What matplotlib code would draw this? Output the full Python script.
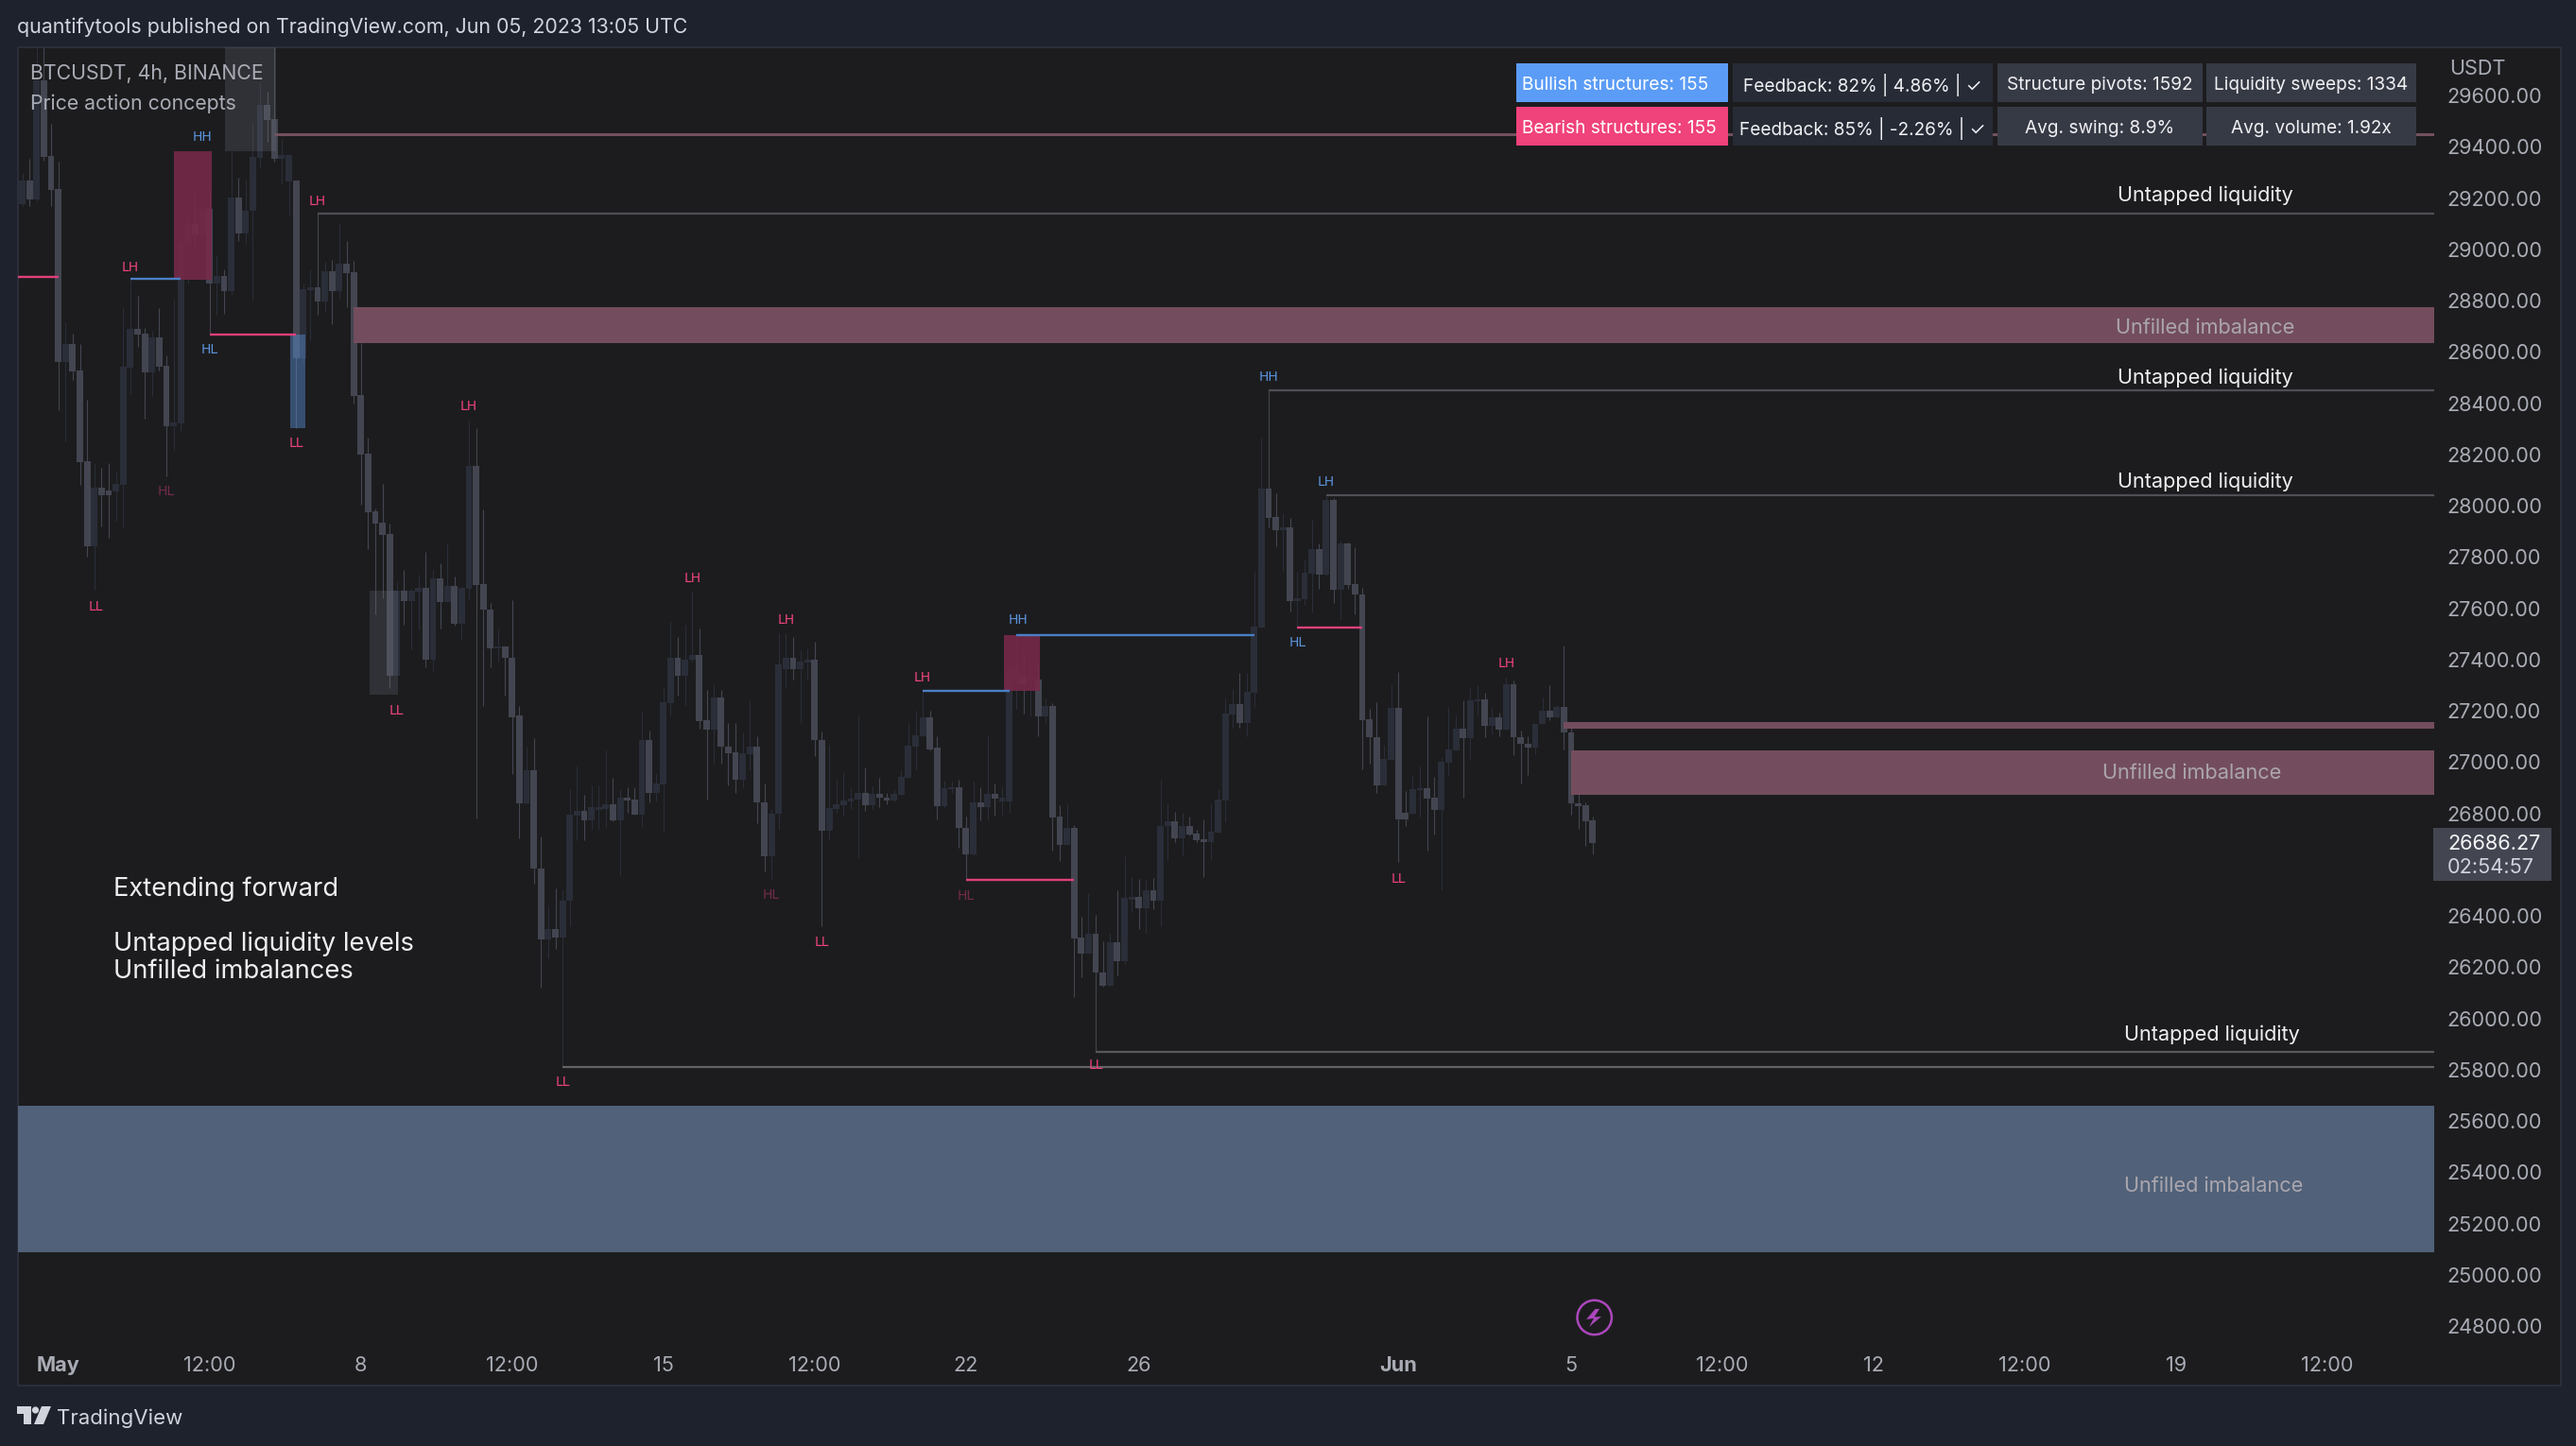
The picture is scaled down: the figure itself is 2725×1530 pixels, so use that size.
import numpy as np
import matplotlib
matplotlib.use('Agg')
import matplotlib.pyplot as plt
from matplotlib.patches import Rectangle, Circle, Polygon

plt.rcParams['font.family'] = ['Inter', 'DejaVu Sans']

# 4h candles, bar 0 is May 1 00:00
first_bar = -5
opens = [29176,29268,29194,29659,29364,
 29235,28560,28630,28527,28173,27842,28070,28059,28055,28081,
 28538,28689,28671,28520,28656,28546,28310,28321,29025,29098,
 29058,29157,28866,28896,28837,29202,29062,29150,29356,29563,
 29508,29353,29264,29268,28575,28840,28851,28796,28914,28837,
 28944,28910,28431,28203,27978,27934,27889,27337,27668,27628,
 27665,27679,27399,27716,27624,27687,27539,27676,28155,27694,
 27595,27443,27451,27407,27182,26839,26968,26585,26308,26349,
 26315,26459,26791,26810,26773,26813,26817,26835,26773,26861,
 26854,26795,27086,26879,26913,27230,27407,27337,27399,27418,
 27163,27126,27252,27060,27038,26931,27031,27060,26843,26633,
 26798,27362,27407,27362,27388,27399,27086,26732,26817,26832,
 26846,26854,26879,26832,26876,26861,26850,26872,26938,27060,
 27101,27174,27056,26828,26894,26902,26743,26640,26843,26824,
 26876,26846,26846,27300,27333,27318,27322,27178,27219,26787,
 26677,26743,26315,26253,26330,26179,26128,26297,26223,26463,
 26474,26430,26500,26459,26750,26769,26703,26750,26721,26699,
 26688,26725,26850,27185,27226,27152,27270,27525,28066,27956,
 27904,27915,27628,27635,27735,27830,27731,28022,27672,27853,
 27694,27654,27167,27097,26909,27008,27211,26802,26798,26891,
 26898,26861,26813,26997,27045,27130,27093,27237,27244,27141,
 27174,27126,27303,27097,27071,27056,27149,27200,27174,27215,
 27115,26839,26832,26773]
highs = [29297,29353,29788,29788,29489,
 29342,28715,28671,28630,28413,28162,28147,28166,28136,28770,
 28881,28818,28693,28682,28770,28586,28804,29050,29143,29238,
 29180,29235,28977,28922,29382,29279,29272,29493,29651,29614,
 29788,29430,29371,29268,28866,28922,29140,28951,28958,29098,
 29032,28955,28634,28265,27989,28085,27930,27701,27749,27676,
 27731,27819,27749,27775,27853,27724,27679,28332,28302,27985,
 27620,27521,27451,27631,27219,27060,27093,26710,26437,26507,
 26503,26894,26983,26872,26909,26909,27045,26938,26894,26902,
 26902,27200,27123,26953,27292,27550,27488,27536,27665,27521,
 27281,27303,27281,27152,27152,27115,27241,27101,26916,26817,
 27502,27502,27488,27436,27443,27469,27119,27067,26931,26961,
 26902,27182,26979,26905,26938,26879,26894,26968,27152,27200,
 27281,27200,27101,26927,26924,26931,26787,26924,26902,27101,
 26916,26902,27362,27495,27429,27388,27377,27248,27230,26832,
 26839,26754,26397,26489,26404,26301,26334,26500,26633,26551,
 26544,26540,26548,26931,26839,26806,26802,26787,26736,26776,
 26839,26894,27248,27285,27348,27348,27746,28265,28450,28048,
 27970,27952,27742,27790,27945,27853,28041,28030,27864,27857,
 27838,27679,27208,27233,27067,27300,27351,26887,26950,26983,
 27178,26942,27016,27215,27182,27241,27289,27300,27270,27215,
 27193,27329,27318,27123,27101,27149,27252,27300,27222,27454,
 27149,26876,26843,26787]
lows = [29168,29168,29187,29345,29168,
 28372,28251,28490,28081,27801,27672,27919,27875,27941,27912,
 28435,28619,28339,28428,28527,28114,28214,28288,28866,29014,
 29050,28667,28745,28748,28822,29032,29025,28804,29320,29419,
 29342,29253,29135,28302,28553,28645,28745,28756,28708,28807,
 28774,28398,28004,27830,27576,27639,27289,27337,27536,27440,
 27517,27370,27355,27521,27624,27532,27477,27635,26780,27219,
 27370,27392,27259,26953,26703,26839,26526,26120,26234,26271,
 25811,26360,26695,26695,26739,26739,26747,26769,26559,26802,
 26795,26747,26843,26846,26725,27182,27259,27222,27392,27130,
 26854,26994,26994,26909,26879,26902,26968,26762,26574,26544,
 26739,27289,27322,27152,27322,27023,26360,26695,26802,26791,
 26817,26629,26810,26817,26824,26835,26846,26872,26938,26968,
 27101,27045,26776,26824,26879,26666,26540,26636,26773,26773,
 26791,26795,26802,27208,27189,27178,27101,27149,26655,26614,
 26677,26084,26161,26253,25871,26124,26128,26168,26212,26415,
 26349,26330,26426,26360,26614,26688,26636,26714,26688,26551,
 26621,26725,26765,27134,27134,27101,27215,27525,27915,27842,
 27746,27587,27528,27613,27583,27676,27727,27620,27558,27676,
 27576,26972,26994,26879,26909,27008,26610,26750,26798,26787,
 26655,26717,26503,26950,27045,26861,27008,27182,27097,27108,
 27101,27126,27027,26916,26950,27031,27149,27163,27171,27049,
 26795,26739,26673,26640]
closes = [29268,29194,29659,29360,29231,
 28560,28630,28523,28170,27842,28070,28041,28041,28085,28542,
 28689,28667,28520,28656,28542,28310,28324,29025,29098,29058,
 29157,28866,28896,28837,29202,29062,29150,29360,29563,29504,
 29353,29368,29368,28575,28844,28851,28796,28914,28837,28944,
 28907,28428,28199,27974,27930,27886,27337,27668,27628,27668,
 27679,27399,27716,27624,27687,27539,27679,28155,27690,27595,
 27443,27451,27407,27174,26839,26968,26585,26308,26349,26315,
 26459,26795,26810,26773,26824,26824,26835,26773,26861,26850,
 26795,27086,26879,26916,27233,27407,27337,27399,27418,27160,
 27126,27252,27060,27034,26931,27034,27060,26843,26633,26798,
 27381,27407,27362,27392,27399,27086,26732,26820,26835,26850,
 26857,26879,26832,26876,26861,26850,26876,26942,27064,27104,
 27174,27049,26828,26898,26902,26743,26640,26843,26824,26876,
 26857,26861,27362,27366,27303,27333,27178,27219,26784,26677,
 26743,26312,26253,26330,26179,26128,26297,26223,26470,26474,
 26430,26500,26459,26750,26769,26703,26750,26717,26695,26688,
 26728,26854,27189,27226,27152,27274,27528,28066,27952,27904,
 27915,27628,27639,27738,27830,27731,28022,27672,27853,27690,
 27654,27163,27097,26909,27012,27211,26776,26776,26894,26898,
 26857,26813,27001,27049,27130,27093,27241,27244,27141,27174,
 27126,27303,27097,27071,27056,27149,27200,27174,27215,27115,
 26839,26828,26769,26686]

# extended levels: start bar, price
liquidity_starts = [36, 168, 176, 144, 70]
liquidity_prices = [29140, 28451, 28041, 25871, 25811]
liquidity_colors = ['#4e4f55', '#4e4f55', '#4e4f55', '#58595d', '#636365']

# unfilled imbalances: start bar, top, bottom
imbalance_starts = [41, 209, 210, -6]
imbalance_tops = [28774, 27156, 27045, 25660]
imbalance_bottoms = [28634, 27130, 26872, 25088]
imbalance_colors = ['#734d5d', '#734d5d', '#734d5d', '#506179']

# short structure lines
struct_starts = [-6, 10, 21, 120, 133, 126, 172]
struct_ends = [0, 17, 33, 132, 166, 141, 181]
struct_prices = [28894, 28884, 28666, 27278, 27497, 26540, 27525]
struct_colors = ['#e0407a', '#4a7fc4', '#e0407a', '#4a7fc4', '#4a7fc4', '#e0407a', '#e0407a']

# order blocks: left, right, top, bottom
block_lefts = [16.1, 131.2, 32.2, 23.1, 43.2]
block_rights = [21.3, 136.3, 34.3, 30.2, 47.2]
block_tops = [29382, 27495, 28667, 29788, 27668]
block_bottoms = [28881, 27278, 28302, 29382, 27263]
block_colors = ['#78294a', '#78294a', '#5a8fd6', '#7a7f8c', '#7a7f8c']
block_alphas = [0.88, 0.88, 0.45, 0.22, 0.22]

pink = '#ef437b'
blue = '#5b93dc'
dim = '#722b49'
label_text = ['LH', 'HH', 'LH', 'HL', 'LL', 'LH', 'LL', 'HL', 'LL', 'LH', 'LH', 'LH', 'HH', 'HL', 'HL',
              'LL', 'LL', 'LL', 'HH', 'LH', 'HL', 'LH', 'LL']
label_bars = [10, 20, 36, 21, 33, 57, 5.2, 15, 47, 88, 101, 120, 133.2, 99, 126,
              106, 70, 144, 168, 176, 172, 201, 186]
label_prices = [28930, 29436, 29188, 28608, 28243, 28387, 27607, 28056, 27201, 27718, 27554, 27331, 27554, 26483, 26477,
                26298, 25751, 25817, 28501, 28094, 27466, 27386, 26545]
label_colors = [pink, blue, pink, blue, pink, pink, pink, dim, pink, pink, pink, pink, blue, dim, dim,
                pink, pink, pink, blue, blue, blue, pink, pink]

note_text = ['Untapped liquidity', 'Untapped liquidity', 'Untapped liquidity', 'Untapped liquidity',
             'Unfilled imbalance', 'Unfilled imbalance', 'Unfilled imbalance']
note_bars = [298, 298, 298, 299, 298, 296.2, 299.2]
note_prices = [29210, 28499, 28095, 25937, 28694, 26956, 25348]
note_colors = ['#eeeef0', '#eeeef0', '#eeeef0', '#eeeef0', '#aba6ae', '#aba6ae', '#aba6ae']

price_ticks = [29600, 29400, 29200, 29000, 28800, 28600, 28400, 28200, 28000, 27800, 27600, 27400, 27200,
               27000, 26800, 26400, 26200, 26000, 25800, 25600, 25400, 25200, 25000, 24800]
time_ticks = [0, 21, 42, 63, 84, 105, 126, 150, 186, 210, 231, 252, 273, 294, 315]
time_labels = ['May', '12:00', '8', '12:00', '15', '12:00', '22', '26', 'Jun', '5', '12:00', '12', '12:00', '19', '12:00']

table_rows = [['Bullish structures: 155', 'Feedback: 82% | 4.86% | ✓', 'Structure pivots: 1592', 'Liquidity sweeps: 1334'],
              ['Bearish structures: 155', 'Feedback: 85% | -2.26% | ✓', 'Avg. swing: 8.9%', 'Avg. volume: 1.92x']]

W, H = 2725, 1530
page_bg = '#1e222d'
panel_bg = '#1c1c1e'
up_color = '#2a2e39'
down_color = '#434651'
axis_text = '#a9acb5'

fig = plt.figure(figsize=(W / 100, H / 100), dpi=100, facecolor=page_bg)

# overlay in pixels for the page chrome
back = fig.add_axes([0, 0, 1, 1], zorder=0)
back.set_xlim(0, W)
back.set_ylim(H, 0)
back.axis('off')
back.add_patch(Rectangle((18.5, 49.5), 2690, 1416, facecolor=panel_bg, edgecolor='#2a2e39', linewidth=1.5))

# main chart, 19..2575 px wide, 50..1420 px high
ax = fig.add_axes([19 / W, 1 - 1420 / H, (2575 - 19) / W, (1420 - 50) / H], zorder=1)
ax.set_facecolor('none')
ax.set_xlim(-5.6, 329.8)
ax.set_ylim(24738, 29788)
for s in ax.spines.values():
    s.set_visible(False)

bars = np.arange(len(opens)) + first_bar
opens = np.array(opens)
closes = np.array(closes)
colors = [up_color if c > o else down_color for o, c in zip(opens, closes)]
ax.vlines(bars, lows, highs, colors=colors, linewidth=0.8, zorder=2)
ax.bar(bars, np.abs(closes - opens), bottom=np.minimum(opens, closes), width=0.9, color=colors,
       linewidth=0, zorder=3)

right_edge = ax.get_xlim()[1]
for x0, top, bot, c in zip(imbalance_starts, imbalance_tops, imbalance_bottoms, imbalance_colors):
    ax.add_patch(Rectangle((x0, bot), right_edge - x0, top - bot, facecolor=c, edgecolor='none', zorder=4))
ax.hlines(29449, 30, right_edge, colors='#73505e', linewidth=2.2, zorder=4)

for x0, x1, top, bot, c, a in zip(block_lefts, block_rights, block_tops, block_bottoms, block_colors, block_alphas):
    ax.add_patch(Rectangle((x0, bot), x1 - x0, top - bot, facecolor=c, alpha=a, edgecolor='none', zorder=5))

for x0, p, c in zip(liquidity_starts, liquidity_prices, liquidity_colors):
    ax.hlines(p, x0, right_edge, colors=c, linewidth=1.6, zorder=5)
for x0, x1, p, c in zip(struct_starts, struct_ends, struct_prices, struct_colors):
    ax.hlines(p, x0, x1, colors=c, linewidth=1.7, zorder=6)

for t, x0, p, c in zip(label_text, label_bars, label_prices, label_colors):
    ax.text(x0, p, t, color=c, fontsize=10, family='DejaVu Sans', ha='center', va='center', zorder=7)
for t, x0, p, c in zip(note_text, note_bars, note_prices, note_colors):
    ax.text(x0, p, t, color=c, fontsize=15.6, ha='center', va='center', zorder=7)

ax.yaxis.tick_right()
ax.set_yticks(price_ticks)
ax.set_yticklabels(['%.2f' % p for p in price_ticks], color=axis_text, fontsize=15.6)
ax.tick_params(axis='y', length=0, pad=9.4)
ax.set_xticks(time_ticks)
ax.set_xticklabels(time_labels, color=axis_text, fontsize=15.6)
ax.tick_params(axis='x', length=0, pad=11)
for lab in ax.get_xticklabels():
    if lab.get_text() in ('May', 'Jun'):
        lab.set_fontweight('bold')

# overlay on top: table, price tag, texts
ov = fig.add_axes([0, 0, 1, 1], zorder=2)
ov.set_xlim(0, W)
ov.set_ylim(H, 0)
ov.axis('off')
ov.patch.set_alpha(0)

col_x = [(1604, 1828), (1833, 2108), (2113, 2330), (2334, 2556)]
row_y = [(67, 108), (113, 154)]
cell_colors = [['#5b9cf6', '#262b36', '#363a45', '#363a45'], ['#f0427b', '#262b36', '#363a45', '#363a45']]
for r, (y0, y1) in enumerate(row_y):
    for c, (x0, x1) in enumerate(col_x):
        ov.add_patch(Rectangle((x0, y0), x1 - x0, y1 - y0, facecolor=cell_colors[r][c], edgecolor='none'))
        if c == 0:
            ov.text(x0 + 6, (y0 + y1) / 2 + 2, table_rows[r][c], color='white', fontsize=13.7, ha='left', va='center')
        else:
            ov.text((x0 + x1) / 2, (y0 + y1) / 2 + 2, table_rows[r][c], color='#f0f0f3', fontsize=13.7, ha='center', va='center')

ov.text(18, 29, 'quantifytools published on TradingView.com, Jun 05, 2023 13:05 UTC', color='#d1d4dc',
        fontsize=15.4, ha='left', va='center')
ov.text(32, 78, 'BTCUSDT, 4h, BINANCE', color='#a9acb5', fontsize=15.3, ha='left', va='center')
ov.text(32, 110, 'Price action concepts', color='#a9acb5', fontsize=15.3, ha='left', va='center')
ov.text(2591, 73, 'USDT', color='#a9acb5', fontsize=15.6, ha='left', va='center')

ov.text(120, 941, 'Extending forward', color='#eeeef2', fontsize=19.7, ha='left', va='center')
ov.text(120, 999, 'Untapped liquidity levels', color='#eeeef2', fontsize=19.7, ha='left', va='center')
ov.text(120, 1028, 'Unfilled imbalances', color='#eeeef2', fontsize=19.7, ha='left', va='center')

ov.add_patch(Rectangle((2574, 876), 125, 56, facecolor='#434651', edgecolor='none'))
ov.text(2589, 893, '26686.27', color='#f5f5f7', fontsize=15.6, ha='left', va='center')
ov.text(2589, 918, '02:54:57', color='#d1d4dc', fontsize=15.6, ha='left', va='center')

# lightning badge
ov.add_patch(Circle((1686.7, 1394), 18.2, facecolor='none', edgecolor='#ab47bc', linewidth=1.8))
bolt = [(1687.5, 1385), (1678, 1396), (1686, 1395), (1681, 1404), (1694, 1393), (1686.5, 1393.5), (1692, 1385)]
ov.add_patch(Polygon(bolt, closed=True, facecolor='#ab47bc', edgecolor='none'))

# footer logo
logo = '#d1d4dc'
ov.add_patch(Polygon([(18, 1488), (33, 1488), (33, 1507), (25, 1507), (25, 1496), (18, 1496)], closed=True,
                     facecolor=logo, edgecolor='none'))
ov.add_patch(Circle((37.5, 1492), 3.6, facecolor=logo, edgecolor='none'))
ov.add_patch(Polygon([(44, 1488), (54, 1488), (46, 1507), (36, 1507)], closed=True, facecolor=logo, edgecolor='none'))
ov.text(60, 1501, 'TradingView', color=logo, fontsize=16, ha='left', va='center')

fig.savefig('out.png', dpi=100, facecolor=page_bg)
